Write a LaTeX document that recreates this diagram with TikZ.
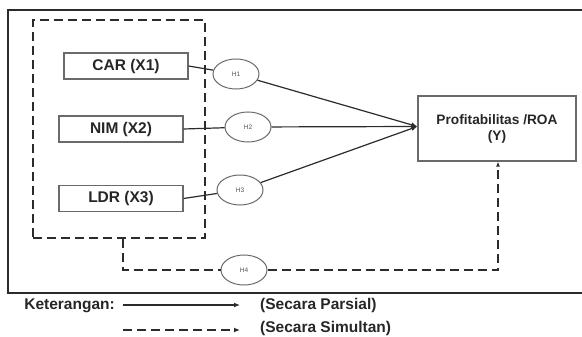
\documentclass[tikz,border=0pt]{standalone}
\usepackage{fontspec}
\setmainfont{Liberation Sans}
\usepackage{tikz}
\usetikzlibrary{shapes,arrows.meta,positioning}
\usepackage{xcolor}
\definecolor{linecol}{HTML}{2B2B2B}
\definecolor{boxcol}{HTML}{6A6A6A}
\definecolor{textcol}{HTML}{262626}
\tikzset{
  varbox/.style={draw=boxcol, line width=1.2pt, minimum width=124pt, minimum height=26pt, inner sep=0pt,
    font=\fontsize{15.5}{18}\selectfont\bfseries, text=textcol},
  hyp/.style={ellipse, draw=boxcol, line width=1pt, fill=white, minimum width=46pt, minimum height=30pt, inner sep=0pt,
    font=\fontsize{6.5}{7}\selectfont, text=textcol!80},
  dashline/.style={line width=1.4pt, linecol, dash pattern=on 9pt off 5pt},
  legtext/.style={font=\fontsize{15.5}{18}\selectfont\bfseries, text=textcol, inner sep=0pt}
}

\begin{document}
\begin{tikzpicture}[x=1pt, y=-1pt]
  \useasboundingbox (0,0) rectangle (582,337);
  % frame
  \draw[line width=1.4pt, linecol] (583,10) -- (8,10) -- (8,293) -- (583,293);
  % variables
  \node[draw=linecol, dashline, minimum width=172pt, minimum height=218pt] (grp) at (119,129) {};
  \foreach \i/\lab/\x/\y in {1/CAR/126/66, 2/NIM/121/129, 3/LDR/121/198.5} {
    \node[varbox] (x\i) at (\x,\y) {\lab\ (X\i)};
  }
  \node[draw=boxcol, line width=1.2pt, minimum width=158pt, minimum height=65pt, align=center,
    font=\fontsize{13.7}{16}\selectfont\bfseries, text=textcol] (roa) at (497,128.5) {Profitabilitas /ROA\\(Y)};
  % hypotheses
  \foreach \i/\x/\y in {1/236/74, 2/248/127, 3/240/190, 4/244/270} {
    \node[hyp] (h\i) at (\x,\y) {H\i};
  }
  \foreach \i in {1,2,3} {
    \draw[line width=1.2pt, linecol] (x\i.east) -- (h\i);
    \draw[line width=1.2pt, linecol, -{Latex[length=6pt,width=5pt]}] (h\i) -- ([yshift=2pt]roa.west);
  }
  \draw[dashline] ([xshift=4pt]grp.south) |- (h4.west);
  \draw[dashline, -{Latex[length=5pt,width=4pt]}] (h4.east) -| ([xshift=1pt]roa.south);
  % legend
  \node[legtext, anchor=east] (ket) at (115,305.5) {Keterangan:};
  \coordinate (a1) at (123,305);
  \coordinate (b1) at (240,305);
  \coordinate (a2) at (123,330);
  \coordinate (b2) at (240,330);
  \draw[line width=1.2pt, linecol, -{Latex[length=6pt,width=5pt]}] (a1) -- (b1);
  \draw[dashline, -{Latex[length=6pt,width=5pt]}] (a2) -- (b2);
  \node[legtext, anchor=west] (parsial) at (260,305.5) {(Secara Parsial)};
  \node[legtext, anchor=west] (simultan) at (260,328.5) {(Secara Simultan)};
\end{tikzpicture}
\end{document}
